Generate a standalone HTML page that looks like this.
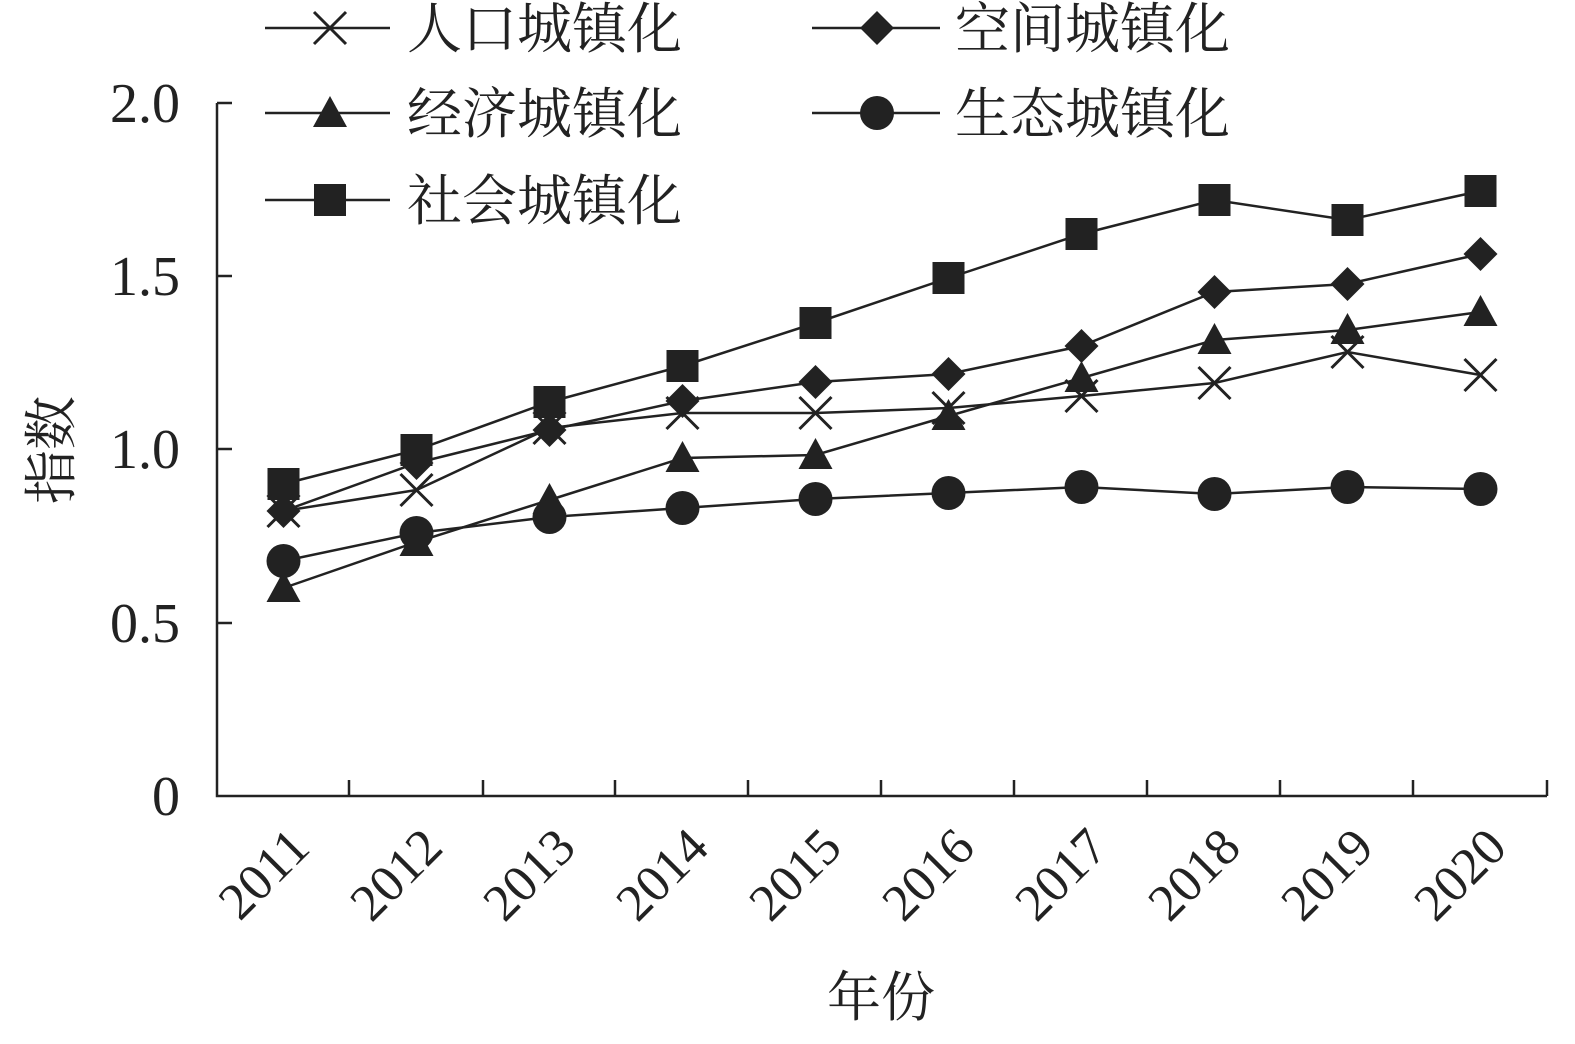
<!DOCTYPE html>
<html><head><meta charset="utf-8"><style>
html,body{margin:0;padding:0;background:#fff;}
svg text{font-family:"Liberation Serif","Noto Serif CJK SC",serif;fill:#222;}
</style></head><body>
<svg width="1575" height="1039" viewBox="0 0 1575 1039" xmlns="http://www.w3.org/2000/svg">
<defs>
<g id="mx"><path d="M-16,-16L16,16M-16,16L16,-16" stroke="#222" stroke-width="3" fill="none"/></g>
<g id="md"><path d="M0,-17L17,0L0,17L-17,0Z" fill="#222"/></g>
<g id="mt"><path d="M0,-17L17,14L-17,14Z" fill="#222"/></g>
<g id="mc"><circle r="17" fill="#222"/></g>
<g id="ms"><rect x="-16" y="-16" width="32" height="32" fill="#222"/></g>
</defs>
<g stroke="#222" stroke-width="2.5" fill="none">
<path d="M217,103V796H1547"/>
<path d="M217,103h15M217,276h15M217,449h15M217,623h15"/>
<path d="M349,796v-16M483,796v-16M615,796v-16M748,796v-16M881,796v-16M1014,796v-16M1147,796v-16M1280,796v-16M1413,796v-16M1547,796v-16"/>
</g>
<g font-size="56" text-anchor="end">
<text x="180" y="122">2.0</text><text x="180" y="295">1.5</text><text x="180" y="468">1.0</text><text x="180" y="642">0.5</text><text x="180" y="815">0</text>
</g>
<g font-size="52" text-anchor="end">
<text transform="translate(312,850) rotate(-45)">2011</text>
<text transform="translate(445,850) rotate(-45)">2012</text>
<text transform="translate(578,850) rotate(-45)">2013</text>
<text transform="translate(711,850) rotate(-45)">2014</text>
<text transform="translate(844,850) rotate(-45)">2015</text>
<text transform="translate(977,850) rotate(-45)">2016</text>
<text transform="translate(1110,850) rotate(-45)">2017</text>
<text transform="translate(1243,850) rotate(-45)">2018</text>
<text transform="translate(1376,850) rotate(-45)">2019</text>
<text transform="translate(1509,850) rotate(-45)">2020</text>
</g>
<text x="881" y="1016" font-size="54" text-anchor="middle">年份</text>
<text transform="translate(70,450) rotate(-90)" font-size="54" text-anchor="middle">指数</text>
<g stroke="#222" stroke-width="2.5" fill="none">
<polyline points="283.5,511 416.5,490 549.5,428 682.5,413 815.5,413 948.5,408 1081.5,396 1214.5,383 1347.5,352 1480.5,375"/>
<polyline points="283.5,511 416.5,463 549.5,430 682.5,401 815.5,382 948.5,374 1081.5,346 1214.5,292 1347.5,284 1480.5,254"/>
<polyline points="283.5,588 416.5,542 549.5,500 682.5,458 815.5,455 948.5,416 1081.5,378 1214.5,340 1347.5,330 1480.5,312"/>
<polyline points="283.5,561 416.5,533 549.5,517 682.5,508 815.5,499 948.5,493 1081.5,487 1214.5,494 1347.5,487 1480.5,489"/>
<polyline points="283.5,484 416.5,450 549.5,402 682.5,366 815.5,323 948.5,278 1081.5,234 1214.5,200 1347.5,220 1480.5,191"/>
<path d="M265,28H390M812,28H940M265,113H390M812,113H940M265,200H390"/>
</g>
<g>
<use href="#mx" x="283.5" y="511"/><use href="#mx" x="416.5" y="490"/><use href="#mx" x="549.5" y="428"/><use href="#mx" x="682.5" y="413"/><use href="#mx" x="815.5" y="413"/><use href="#mx" x="948.5" y="408"/><use href="#mx" x="1081.5" y="396"/><use href="#mx" x="1214.5" y="383"/><use href="#mx" x="1347.5" y="352"/><use href="#mx" x="1480.5" y="375"/>
<use href="#md" x="283.5" y="511"/><use href="#md" x="416.5" y="463"/><use href="#md" x="549.5" y="430"/><use href="#md" x="682.5" y="401"/><use href="#md" x="815.5" y="382"/><use href="#md" x="948.5" y="374"/><use href="#md" x="1081.5" y="346"/><use href="#md" x="1214.5" y="292"/><use href="#md" x="1347.5" y="284"/><use href="#md" x="1480.5" y="254"/>
<use href="#mt" x="283.5" y="588"/><use href="#mt" x="416.5" y="542"/><use href="#mt" x="549.5" y="500"/><use href="#mt" x="682.5" y="458"/><use href="#mt" x="815.5" y="455"/><use href="#mt" x="948.5" y="416"/><use href="#mt" x="1081.5" y="378"/><use href="#mt" x="1214.5" y="340"/><use href="#mt" x="1347.5" y="330"/><use href="#mt" x="1480.5" y="312"/>
<use href="#mc" x="283.5" y="561"/><use href="#mc" x="416.5" y="533"/><use href="#mc" x="549.5" y="517"/><use href="#mc" x="682.5" y="508"/><use href="#mc" x="815.5" y="499"/><use href="#mc" x="948.5" y="493"/><use href="#mc" x="1081.5" y="487"/><use href="#mc" x="1214.5" y="494"/><use href="#mc" x="1347.5" y="487"/><use href="#mc" x="1480.5" y="489"/>
<use href="#ms" x="283.5" y="484"/><use href="#ms" x="416.5" y="450"/><use href="#ms" x="549.5" y="402"/><use href="#ms" x="682.5" y="366"/><use href="#ms" x="815.5" y="323"/><use href="#ms" x="948.5" y="278"/><use href="#ms" x="1081.5" y="234"/><use href="#ms" x="1214.5" y="200"/><use href="#ms" x="1347.5" y="220"/><use href="#ms" x="1480.5" y="191"/>
<use href="#mx" x="330" y="28"/><use href="#md" x="877" y="28"/><use href="#mt" x="330" y="113"/><use href="#mc" x="877" y="113"/><use href="#ms" x="330" y="200"/>
</g>
<g font-size="55">
<text x="407" y="48">人口城镇化</text><text x="955" y="48">空间城镇化</text>
<text x="407" y="133">经济城镇化</text><text x="955" y="133">生态城镇化</text>
<text x="407" y="220">社会城镇化</text>
</g>
</svg>
</body></html>
